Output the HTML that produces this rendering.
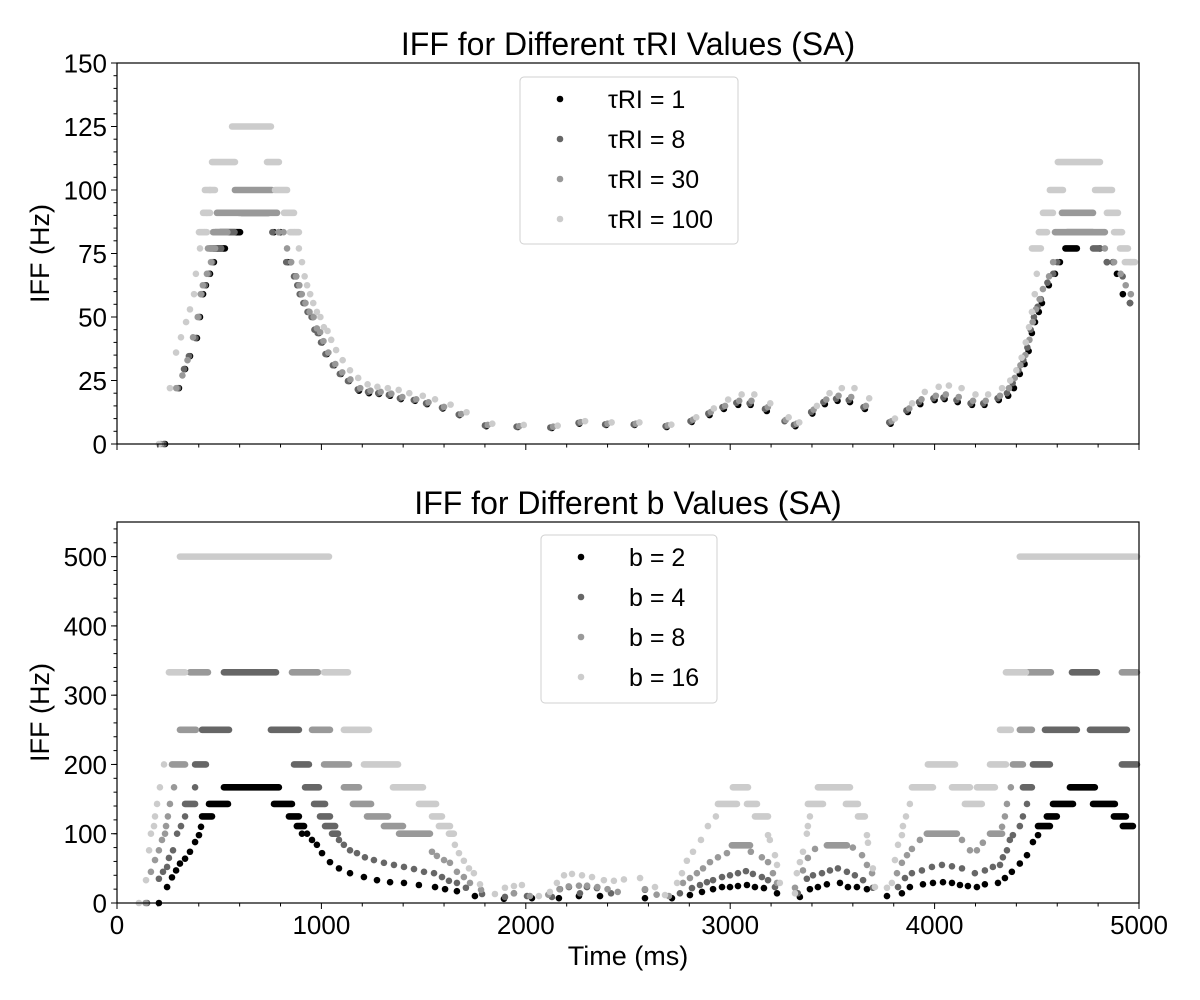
<!DOCTYPE html>
<html><head><meta charset="utf-8"><title>IFF chart</title>
<style>
body{margin:0;background:#fff;}
svg{display:block;font-family:"Liberation Sans",Arial,sans-serif;}
</style></head>
<body>
<svg id="chart" width="1200" height="1000" viewBox="0 0 1200 1000" xmlns="http://www.w3.org/2000/svg">
<rect width="1200" height="1000" fill="#fff"/>
<g id="top"></g>
<g id="bot"></g>
</svg>
<script>
// ---- data: top panel (tau RI) ----
const topLabels = ["τRI = 1","τRI = 8","τRI = 30","τRI = 100"];
const botLabels = ["b = 2","b = 4","b = 8","b = 16"];
const xTicks = [0,1000,2000,3000,4000,5000];
const topYTicks = [0,25,50,75,100,125,150];
const botYTicks = [0,100,200,300,400,500];

const top1Pts = [[235,0],[303,22],[333,29.5],[357,34.6],[391,41.7],[406,50],[421,59],[435,62.5],[455,67],[474,71.6],[768,83.4],[800,83.4],[836,71.6],[850,71.6],[876,66],[890,62.5],[900,59],[920,55.5],[939,52],[959,50],[973,45],[988,43.7],[1003,40],[1027,35.4],[1062,31],[1096,27.6],[1135,24.8],[1184,21],[1233,20],[1282,19.7],[1336,19],[1389,17.7],[1458,17],[1517,15.7],[1594,14],[1676,11.4],[1807,7],[1961,6.7],[2127,6.3],[2262,8],[2393,7.5],[2532,7.5],[2689,6.7],[2812,8.7],[2899,11.4],[2969,13.8],[3039,15.4],[3100,15.4],[3179,13],[3319,7],[3402,12],[3463,15.7],[3525,17],[3586,16.5],[3659,13.8],[3785,8],[3869,12.6],[3930,15.7],[4000,17.3],[4049,17.7],[4113,16.5],[4183,15.4],[4244,15.4],[4314,17.3],[4360,19],[4388,22],[4417,27.6],[4440,31.5],[4460,36.6],[4476,43.7],[4491,48],[4510,52],[4525,55.5],[4559,62.5],[4589,67],[4613,71.6],[4809,77],[4843,71.6],[4873,71.6],[4892,67],[4921,59],[4956,55.5]];
const top1Runs = [[474,528,77],[504,602,83.4],[610,740,91],[4640,4696,77]];

const top8Pts = [[228,0],[298,22],[328,29.5],[352,34.6],[384,41.7],[400,50],[414,59],[430,62.5],[448,67],[466,71.6],[760,83.4],[792,83.4],[828,71.6],[866,66],[882,62.5],[894,59],[912,55.5],[932,52],[952,50],[966,45],[982,43.7],[998,40],[1020,35.4],[1056,31],[1090,27.6],[1130,24.8],[1178,21.5],[1228,20.5],[1278,20],[1330,19.3],[1384,18],[1452,17.3],[1512,16],[1590,14.3],[1672,11.6],[1800,7.3],[1955,6.8],[2120,6.5],[2258,8.3],[2388,7.7],[2528,7.7],[2684,7],[2806,9],[2893,12],[2962,14.5],[3030,16.2],[3095,16],[3170,13.8],[3266,9],[3312,7.5],[3396,12.6],[3456,16.5],[3518,17.8],[3580,17.3],[3652,14.5],[3778,8.5],[3862,13.2],[3924,16.5],[3994,18],[4043,18.3],[4107,17.3],[4176,16],[4238,16],[4308,18],[4354,20],[4382,24],[4410,29],[4434,33],[4454,38],[4470,45],[4486,50],[4504,54],[4520,57],[4552,63.5],[4580,67],[4600,71.6],[4809,77],[4843,71.6],[4873,71.6],[4920,66],[4956,55.5]];
const top8Runs = [[455,510,77],[480,575,83.4],[597,744,91],[4647,4775,83.4],[4775,4809,77]];

const top30Pts = [[215,0],[290,22],[320,27],[345,33],[372,42],[395,50],[410,59],[420,62.5],[440,67],[460,71.6],[790,83.4],[815,83.4],[832,77],[852,71.6],[876,66],[892,62.5],[904,59],[922,55.5],[942,52],[962,50],[978,45.5],[994,44],[1010,40.5],[1034,36],[1068,31.5],[1102,28.2],[1142,25.4],[1190,22],[1240,21],[1290,20.5],[1342,19.8],[1396,18.5],[1464,17.6],[1524,16.4],[1600,14.6],[1684,11.8],[1814,7.5],[1968,7],[2134,6.8],[2268,8.6],[2400,8],[2538,8],[2694,7.3],[2818,9.6],[2905,12.6],[2975,15],[3044,17],[3104,17],[3184,14.5],[3272,9.5],[3325,8],[3408,13.5],[3470,17.5],[3530,19],[3592,18.5],[3664,15],[3790,9],[3876,14],[3936,17.6],[4006,19],[4055,19.5],[4118,18.5],[4188,17],[4250,17],[4320,19],[4364,22],[4392,26],[4420,31],[4444,35],[4464,41],[4480,48],[4496,53],[4514,57],[4530,61],[4560,66],[4580,71.6],[4833,77],[4878,71.6],[4910,67],[4935,62.5],[4960,59]];
const top30Runs = [[445,480,77],[470,540,83.4],[489,783,91],[577,758,100],[4589,4833,83.4],[4623,4775,91]];

const top100Pts = [[205,0],[259,22],[289,36],[313,42],[338,48],[357,53],[377,59],[386,67],[406,77],[428,83.4],[440,91],[455,100],[870,83.4],[890,77],[905,71.6],[918,66],[930,62.5],[945,59],[960,55.5],[978,52],[995,50],[1012,46],[1030,44.5],[1048,41],[1072,37],[1104,33],[1140,29],[1180,26],[1226,23.5],[1274,22.5],[1325,22],[1378,21.3],[1430,20],[1496,19],[1556,17.6],[1632,15.5],[1710,12.5],[1836,8],[1990,7.5],[2156,7.2],[2290,9],[2420,8.5],[2556,8.5],[2712,7.6],[2834,10.5],[2920,14],[2990,17.5],[3056,19.5],[3118,19.5],[3196,16],[3286,10.5],[3338,8.5],[3424,15],[3486,20],[3546,22],[3608,22],[3680,18],[3806,10],[3890,16],[3952,20.5],[4020,22.5],[4070,23],[4132,22],[4200,19.5],[4262,19.5],[4330,22],[4370,25],[4400,29],[4426,34],[4446,40],[4462,46],[4476,52],[4490,59],[4500,67],[4960,71.6]];
const top100Runs = [[563,753,125],[465,577,111],[734,792,111],[430,479,100],[773,832,100],[421,455,91],[817,866,91],[401,440,83.4],[846,890,83.4],[4476,4520,77],[4907,4946,77],[4510,4550,83.4],[4878,4917,83.4],[4530,4579,91],[4843,4897,91],[4564,4628,100],[4785,4868,100],[4603,4809,111],[4931,4980,71.6]];

// ---- data: bottom panel (b) ----
const b2Pts = [[205,0],[245,23],[269,37],[289,47],[308,57],[333,64],[357,74],[382,88],[401,98],[411,110],[905,100],[930,100],[954,91],[978,84],[1003,72],[1042,59],[1086,50],[1140,43],[1208,37.5],[1272,33],[1336,30],[1404,29],[1477,26],[1556,23],[1605,20],[1663,17],[1751,10],[1893,6],[2030,7],[2162,7],[2260,10],[2363,10],[2583,7],[2715,7],[2803,11.5],[2862,16],[2916,20],[2960,23],[2999,23],[3038,24.5],[3082,26],[3121,23],[3165,21.5],[3229,14],[3341,8.7],[3390,20],[3429,23],[3473,27],[3537,29],[3576,23],[3620,23],[3669,20],[3767,10],[3840,14],[3879,23],[3943,27],[3992,29],[4041,30],[4085,29],[4124,26],[4163,24.5],[4207,23],[4246,27],[4310,29],[4344,36],[4378,45],[4417,57],[4452,69],[4481,88],[4506,98]];
const b2Runs = [[416,465,125],[450,543,143],[523,792,167],[768,856,143],[841,890,125],[880,915,111],[4506,4564,111],[4549,4598,125],[4579,4677,143],[4662,4784,167],[4775,4882,143],[4877,4936,125],[4921,4970,111]];

const b4Pts = [[147,0],[205,35],[225,45],[245,52],[254,65],[274,76],[294,100],[313,111],[333,125],[382,167],[1086,91],[1110,84],[1140,76],[1174,72],[1213,66],[1257,62],[1306,58],[1355,55],[1404,52],[1453,49],[1502,45],[1551,43],[1590,37.5],[1624,32],[1663,29],[1707,22],[1786,13],[1898,8.7],[1942,14],[2006,10],[2128,8.7],[2167,20],[2211,23],[2265,14],[2299,23],[2348,21.5],[2417,14],[2583,19],[2754,14],[2813,21.5],[2852,26],[2886,30],[2916,33],[2960,37.5],[2999,40],[3038,43],[3077,46],[3111,42],[3155,37.5],[3185,33],[3219,23],[3331,14],[3375,35],[3405,40],[3449,43],[3488,47],[3527,50],[3571,45],[3610,40],[3650,33],[3698,22],[3821,23],[3855,36],[3889,43],[3938,47],[3987,52],[4036,55],[4085,53],[4134,50],[4197,43],[4246,47],[4285,52],[4320,55],[4334,66],[4354,76],[4368,91],[4383,98],[4417,111],[4432,125],[4452,143]];
const b4Runs = [[333,382,143],[382,435,200],[416,548,250],[523,778,333],[753,890,250],[866,939,200],[920,988,167],[964,1018,143],[993,1042,125],[1018,1067,111],[1052,1081,100],[4432,4476,167],[4481,4564,200],[4540,4696,250],[4672,4794,333],[4760,4941,250],[4916,4990,200]];

const b8Pts = [[140,0],[166,45],[186,62],[205,76],[220,91],[235,100],[240,111],[249,125],[259,143],[279,167],[1541,74],[1565,68],[1600,62],[1629,58],[1663,45],[1697,37.5],[1727,29],[1781,19],[1942,14],[2020,10],[2110,12],[2165,20],[2210,24],[2260,25],[2300,25],[2350,23],[2400,20],[2450,16],[2583,20],[2640,12],[2700,10],[2769,29],[2803,36],[2837,43],[2867,50],[2901,59],[2940,66],[2984,72],[3101,74],[3155,66],[3185,59],[3209,43],[3229,29],[3317,22],[3356,47],[3380,65],[3415,78],[3600,80],[3645,69],[3669,55],[3694,43],[3816,43],[3840,58],[3865,69],[3889,78],[3928,91],[4134,91],[4173,76],[4207,76],[4236,87],[4330,110],[4344,125],[4354,143],[4373,167]];
const b8Runs = [[269,333,200],[308,386,250],[357,445,333],[856,983,333],[954,1042,250],[1013,1135,200],[1110,1184,167],[1154,1243,143],[1223,1326,125],[1306,1399,111],[1380,1531,100],[3008,3097,83.3],[3473,3571,83.3],[3962,4109,100],[4271,4330,100],[4383,4432,200],[4417,4476,250],[4456,4569,333],[4916,4990,333]];

const b16Pts = [[107,0],[142,33],[157,76],[166,100],[181,111],[186,125],[196,143],[210,167],[230,200],[1653,84],[1673,72],[1697,61],[1722,50],[1746,43],[1776,27],[1849,13],[1898,22],[1942,24.5],[1981,26],[2064,10],[2118,16],[2152,29],[2187,40],[2226,42],[2275,40],[2324,37.5],[2382,33],[2431,32],[2480,34],[2559,36],[2632,23],[2681,11.5],[2740,29],[2764,43],[2788,61],[2818,74],[2857,91],[2891,111],[2930,125],[3185,98],[3194,91],[3219,69],[3229,55],[3243,29],[3317,14],[3326,43],[3341,59],[3356,74],[3375,100],[3380,111],[3390,125],[3669,98],[3674,87],[3698,50],[3708,23],[3767,22],[3791,29],[3806,62],[3821,84],[3840,98],[3845,111],[3860,125],[3879,143]];
const b16Runs = [[254,333,333],[308,1037,500],[1013,1130,333],[1110,1233,250],[1208,1375,200],[1350,1497,167],[1477,1561,143],[1541,1590,125],[1575,1629,111],[1624,1648,100],[2940,3033,143],[3013,3087,167],[3082,3131,143],[3121,3185,125],[3380,3454,143],[3429,3586,167],[3566,3625,143],[3625,3659,125],[3889,3992,167],[3967,4100,200],[4085,4173,167],[4148,4231,143],[4207,4295,167],[4271,4349,200],[4320,4373,250],[4349,4447,333],[4417,4990,500]];

const colors = ["#000000","#666666","#999999","#cccccc"];
const NS = "http://www.w3.org/2000/svg";
function mk(tag, attrs, parent){const e=document.createElementNS(NS,tag);for(const k in attrs)e.setAttribute(k,attrs[k]);parent.appendChild(e);return e;}

const X0=117,X1=1139;
function xs(t){return X0+(t/5000)*(X1-X0);}

function panel(g, top, bottom, ymax, yTicks, minorStep, showXLabels, title, series, labels, legend){
  const ys = v => bottom-(v/ymax)*(bottom-top);
  series.forEach((s,i)=>{
    const sg=mk("g",{},g);
    
    
    s.runs.forEach(r=>{
      const l=mk("line",{x1:xs(r[0]),x2:xs(r[1]),y1:ys(r[2]),y2:ys(r[2]),stroke:colors[i],"stroke-width":6.6,"stroke-linecap":"round"},sg);
      
      
    });
    s.pts.forEach(p=>{
      const c=mk("circle",{cx:xs(p[0]),cy:ys(p[1]),r:3.3,fill:colors[i]},sg);
      
      
    });
  });
  const fr=mk("rect",{x:X0,y:top,width:X1-X0,height:bottom-top,fill:"none",stroke:"#000","stroke-width":1.2},g);
  
  
  for(let t=0;t<=5000;t+=200){
    const major=t%1000===0;
    mk("line",{x1:xs(t),x2:xs(t),y1:bottom,y2:bottom+(major?6:3.5),stroke:"#000","stroke-width":1},g);
  }
  if(showXLabels){
    xTicks.forEach(t=>{
      const tx=mk("text",{x:xs(t),y:bottom+31,"font-size":26,"text-anchor":"middle"},g);
      tx.textContent=t;
      
      
    });
  }
  for(let v=0;v<=ymax+0.01;v+=minorStep){
    mk("line",{x1:X0,x2:X0-3.5,y1:ys(v),y2:ys(v),stroke:"#000","stroke-width":1},g);
  }
  yTicks.forEach(v=>{
    mk("line",{x1:X0,x2:X0-6,y1:ys(v),y2:ys(v),stroke:"#000","stroke-width":1},g);
    const tx=mk("text",{x:X0-10,y:ys(v)+9.5,"font-size":26,"text-anchor":"end"},g);
    tx.textContent=v;
    
    
  });
  const yl=mk("text",{x:0,y:0,"font-size":27,"text-anchor":"middle",transform:`translate(49,${(top+bottom)/2}) rotate(-90)`},g);
  yl.textContent="IFF (Hz)";
  
  
  const tt=mk("text",{x:628,y:top-8,"font-size":32,"text-anchor":"middle"},g);
  tt.textContent=title;
  
  
  const lg=mk("g",{},g);
  
  
  mk("rect",{x:legend.x,y:legend.y,width:legend.w,height:legend.h,rx:4,fill:"#fff","fill-opacity":0.8,stroke:"#d0d0d0","stroke-width":1},lg);
  labels.forEach((lab,i)=>{
    const cy=legend.y+22+i*40;
    mk("circle",{cx:legend.x+40,cy:cy,r:3.3,fill:colors[i]},lg);
    const tx=mk("text",{x:legend.x+88,y:cy+9,"font-size":25},lg);
    tx.textContent=lab;
    
    
  });
}

panel(document.getElementById('top'),63,444,150,topYTicks,5,false,"IFF for Different τRI Values (SA)",
  [{pts:top1Pts,runs:top1Runs},{pts:top8Pts,runs:top8Runs},{pts:top30Pts,runs:top30Runs},{pts:top100Pts,runs:top100Runs}],
  topLabels,{x:520,y:77,w:218,h:167});
panel(document.getElementById('bot'),522,903,550,botYTicks,20,true,"IFF for Different b Values (SA)",
  [{pts:b2Pts,runs:b2Runs},{pts:b4Pts,runs:b4Runs},{pts:b8Pts,runs:b8Runs},{pts:b16Pts,runs:b16Runs}],
  botLabels,{x:541,y:535,w:176,h:168});
const xl=mk("text",{x:628,y:965,"font-size":27,"text-anchor":"middle"},document.getElementById('bot'));
xl.textContent="Time (ms)";


</script>
</body></html>
